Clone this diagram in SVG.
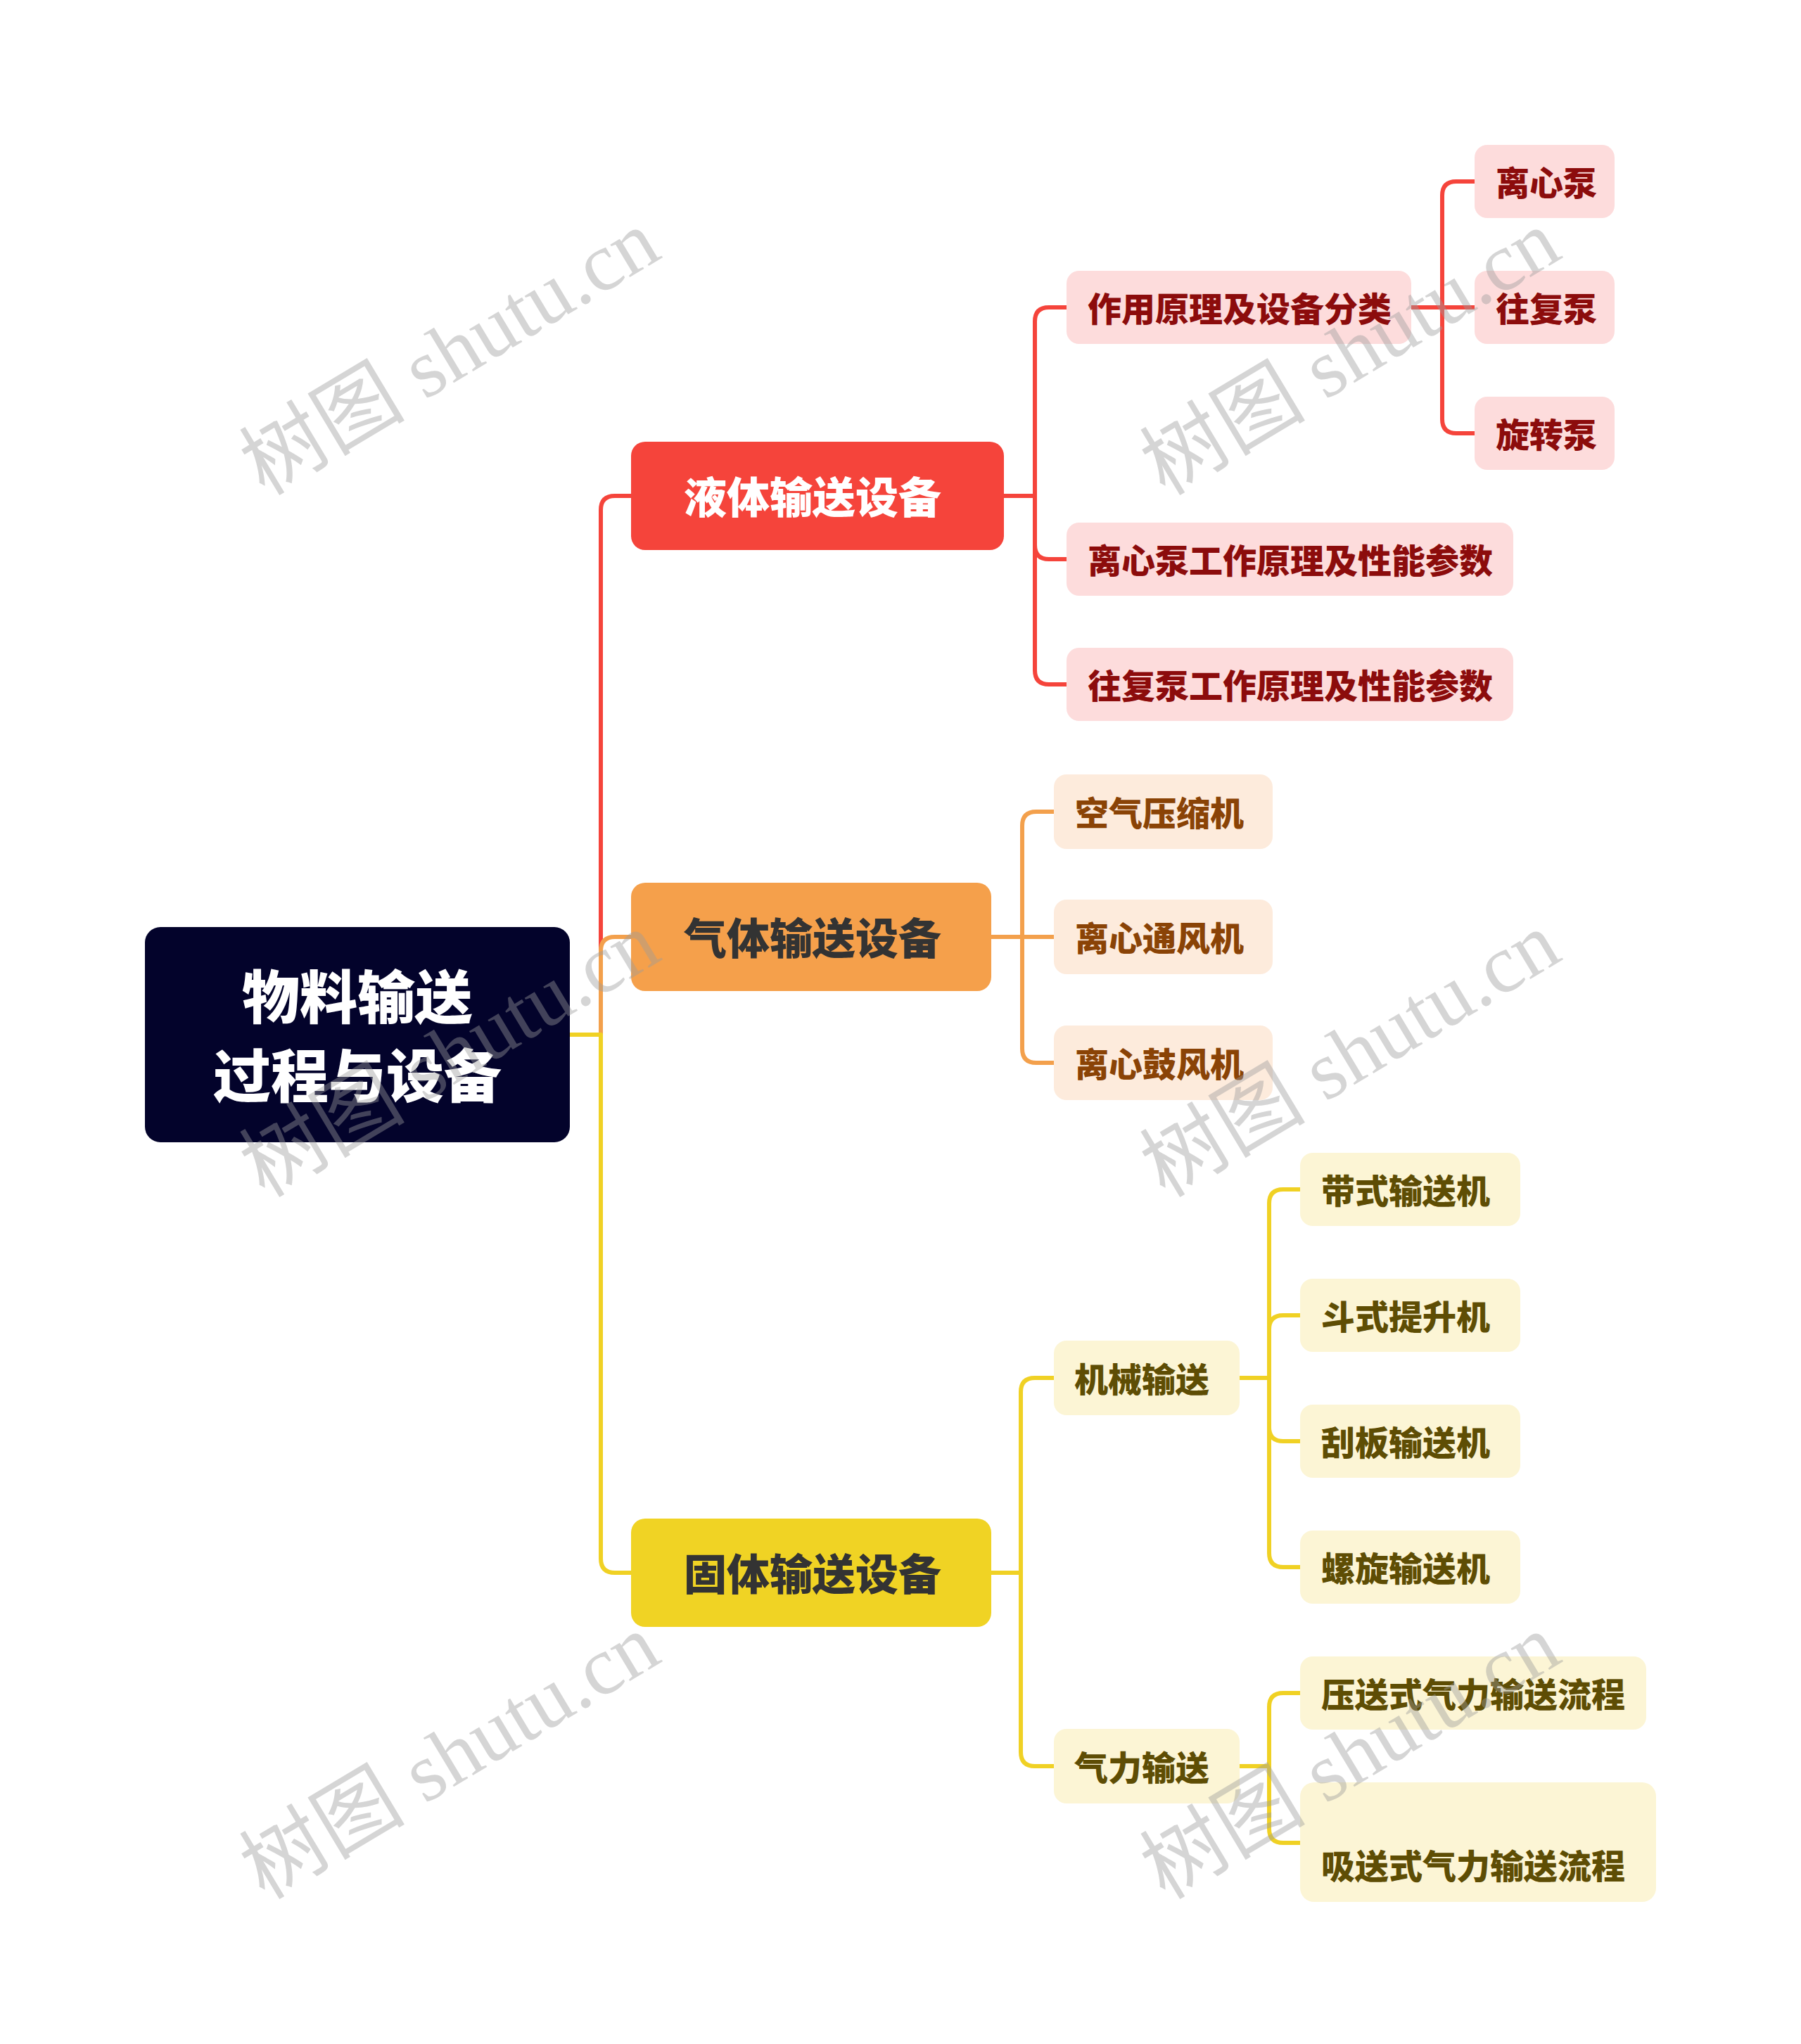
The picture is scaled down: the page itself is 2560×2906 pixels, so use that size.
<svg xmlns="http://www.w3.org/2000/svg" width="2560" height="2906" viewBox="0 0 2560 2906">
<style>
text{font-family:"Noto Sans CJK SC","Noto Sans",sans-serif;font-weight:900;dominant-baseline:central}
.c{fill:none;stroke-width:6;stroke-linecap:round;stroke-linejoin:round}
.cr{stroke:#f5443b}.co{stroke:#f3a04c}.cy{stroke:#f0d124}
.t0{fill:#ffffff;font-size:82px;text-anchor:middle}
.t1w{fill:#ffffff;font-size:61px;text-anchor:middle}
.t1d{fill:#333333;font-size:61px;text-anchor:middle}
.t2r{fill:#8c0c0c;font-size:48px}
.t2o{fill:#8a4306;font-size:48px}
.t2y{fill:#5e4d04;font-size:48px}
.pr{fill:#fddcdc}.po{fill:#fdebdc}.py{fill:#fcf5d5}
.wm{font-family:"Liberation Serif","Noto Sans CJK SC",serif;font-weight:400;font-size:118px;fill:#9a9a9a;fill-opacity:0.42;dominant-baseline:alphabetic}
</style>
<rect width="2560" height="2906" fill="#ffffff"/>
<g id="connectors">
<path class="c cr" d="M810 1471 H854 V725 Q854 705 874 705 H897"/>
<path class="c co" d="M810 1471 H854 V1352 Q854 1332 874 1332 H897"/>
<path class="c cy" d="M810 1471 H854 V2216 Q854 2236 874 2236 H897"/>
<path class="c cr" d="M1427 705 H1471 V457 Q1471 437 1491 437 H1516"/>
<path class="c cr" d="M1427 705 H1471 V775 Q1471 795 1491 795 H1516"/>
<path class="c cr" d="M1427 705 H1471 V953 Q1471 973 1491 973 H1516"/>
<path class="c cr" d="M2006 437 H2050 V278 Q2050 258 2070 258 H2096"/>
<path class="c cr" d="M2006 437 H2096"/>
<path class="c cr" d="M2006 437 H2050 V596 Q2050 616 2070 616 H2096"/>
<path class="c co" d="M1409 1332 H1453 V1174 Q1453 1154 1473 1154 H1498"/>
<path class="c co" d="M1409 1332 H1498"/>
<path class="c co" d="M1409 1332 H1453 V1491 Q1453 1511 1473 1511 H1498"/>
<path class="c cy" d="M1409 2236 H1451 V1979 Q1451 1959 1471 1959 H1498"/>
<path class="c cy" d="M1409 2236 H1451 V2491 Q1451 2511 1471 2511 H1498"/>
<path class="c cy" d="M1762 1959 H1804 V1711 Q1804 1691 1824 1691 H1848"/>
<path class="c cy" d="M1762 1959 H1804 V1890 Q1804 1870 1824 1870 H1848"/>
<path class="c cy" d="M1762 1959 H1804 V2029 Q1804 2049 1824 2049 H1848"/>
<path class="c cy" d="M1762 1959 H1804 V2208 Q1804 2228 1824 2228 H1848"/>
<path class="c cy" d="M1762 2511 H1804 V2427 Q1804 2407 1824 2407 H1848"/>
<path class="c cy" d="M1762 2511 H1804 V2600 Q1804 2620 1824 2620 H1848"/>
</g>
<g id="root"><rect x="206" y="1318" width="604" height="306" rx="22" fill="#03032b"/><text class="t0" x="508" y="1412">物料输送</text><text class="t0" x="508" y="1524">过程与设备</text></g>
<g id="n-liquid"><rect x="897" y="628" width="530" height="154" rx="20" fill="#f5443b"/><text class="t1w" x="1155" y="703">液体输送设备</text></g>
<g id="n-gas"><rect x="897" y="1255" width="512" height="154" rx="20" fill="#f5a04b"/><text class="t1d" x="1155" y="1330">气体输送设备</text></g>
<g id="n-solid"><rect x="897" y="2159" width="512" height="154" rx="20" fill="#f0d324"/><text class="t1d" x="1155" y="2234">固体输送设备</text></g>
<g id="n-principle"><rect class="pr" x="1516" y="385" width="490" height="104" rx="18"/><text class="t2r" x="1546" y="436">作用原理及设备分类</text></g>
<g id="n-centrifugal"><rect class="pr" x="2096" y="206" width="199" height="104" rx="18"/><text class="t2r" x="2126" y="257">离心泵</text></g>
<g id="n-reciprocating"><rect class="pr" x="2096" y="385" width="199" height="104" rx="18"/><text class="t2r" x="2126" y="436">往复泵</text></g>
<g id="n-rotary"><rect class="pr" x="2096" y="564" width="199" height="104" rx="18"/><text class="t2r" x="2126" y="615">旋转泵</text></g>
<g id="n-cent-perf"><rect class="pr" x="1516" y="743" width="635" height="104" rx="18"/><text class="t2r" x="1546" y="794">离心泵工作原理及性能参数</text></g>
<g id="n-recip-perf"><rect class="pr" x="1516" y="921" width="635" height="104" rx="18"/><text class="t2r" x="1546" y="972">往复泵工作原理及性能参数</text></g>
<g id="n-compressor"><rect class="po" x="1498" y="1101" width="311" height="106" rx="18"/><text class="t2o" x="1528" y="1153">空气压缩机</text></g>
<g id="n-fan"><rect class="po" x="1498" y="1279" width="311" height="106" rx="18"/><text class="t2o" x="1528" y="1331">离心通风机</text></g>
<g id="n-blower"><rect class="po" x="1498" y="1458" width="311" height="106" rx="18"/><text class="t2o" x="1528" y="1510">离心鼓风机</text></g>
<g id="n-mech"><rect class="py" x="1498" y="1906" width="264" height="106" rx="18"/><text class="t2y" x="1527" y="1958">机械输送</text></g>
<g id="n-pneu"><rect class="py" x="1498" y="2458" width="264" height="106" rx="18"/><text class="t2y" x="1527" y="2510">气力输送</text></g>
<g id="n-belt"><rect class="py" x="1848" y="1639" width="313" height="104" rx="18"/><text class="t2y" x="1878" y="1690">带式输送机</text></g>
<g id="n-bucket"><rect class="py" x="1848" y="1818" width="313" height="104" rx="18"/><text class="t2y" x="1878" y="1869">斗式提升机</text></g>
<g id="n-scraper"><rect class="py" x="1848" y="1997" width="313" height="104" rx="18"/><text class="t2y" x="1878" y="2048">刮板输送机</text></g>
<g id="n-screw"><rect class="py" x="1848" y="2176" width="313" height="104" rx="18"/><text class="t2y" x="1878" y="2227">螺旋输送机</text></g>
<g id="n-pressure"><rect class="py" x="1848" y="2355" width="492" height="104" rx="18"/><text class="t2y" x="1878" y="2406">压送式气力输送流程</text></g>
<g id="n-suction"><rect class="py" x="1848" y="2534" width="506" height="170" rx="20"/><text class="t2y" x="1878" y="2650">吸送式气力输送流程</text></g>
<g id="watermark">
<text class="wm" transform="translate(376 706) rotate(-31)">树图 shutu.cn</text>
<text class="wm" transform="translate(1656 706) rotate(-31)">树图 shutu.cn</text>
<text class="wm" transform="translate(376 1704) rotate(-31)">树图 shutu.cn</text>
<text class="wm" transform="translate(1656 1704) rotate(-31)">树图 shutu.cn</text>
<text class="wm" transform="translate(376 2702) rotate(-31)">树图 shutu.cn</text>
<text class="wm" transform="translate(1656 2702) rotate(-31)">树图 shutu.cn</text>
</g>
</svg>
